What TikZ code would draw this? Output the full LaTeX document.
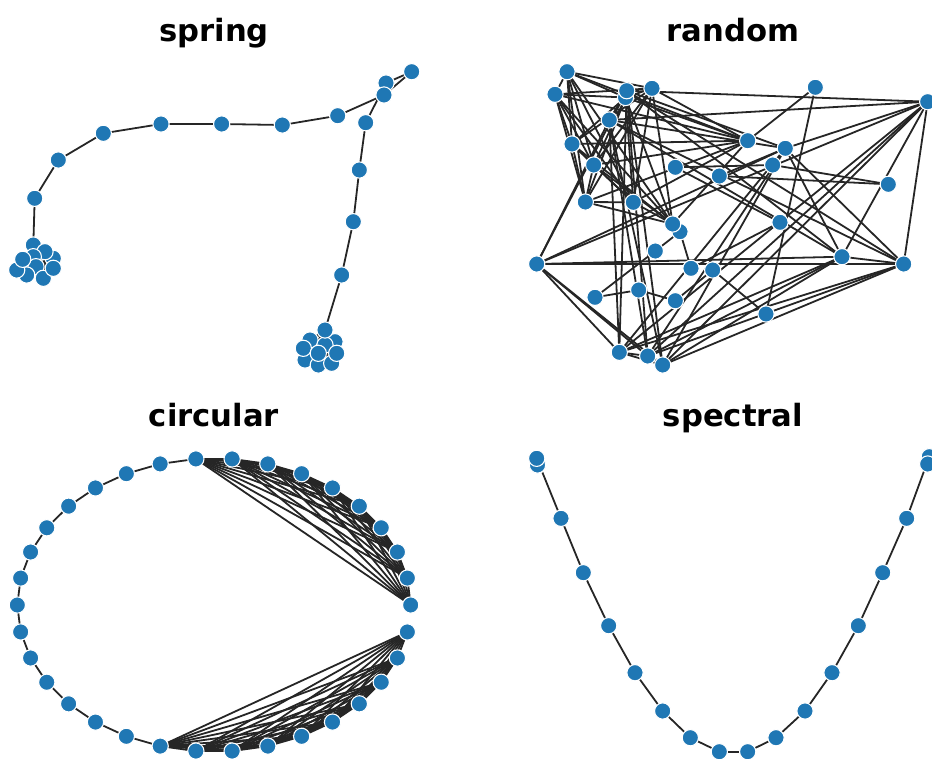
\documentclass[tikz,border=0pt]{standalone}
\usepackage{fontspec}
\setmainfont{DejaVu Sans}
\usetikzlibrary{backgrounds}
\definecolor{nodeblue}{HTML}{1F77B4}
\definecolor{edgec}{HTML}{262626}
\newcommand\myclique[3]{\foreach \i in {#2,...,#3}{\foreach \j in {#2,...,#3}{\ifnum\j>\i \draw[ed] (#1\i.center) -- (#1\j.center);\fi}}}
\newcommand\mypath[1]{\foreach \i in {9,...,23}{\pgfmathtruncatemacro\j{\i+1}\draw[ed] (#1\i.center) -- (#1\j.center);}}
\begin{document}
\begin{tikzpicture}[x=0.75pt,y=-0.75pt,
  nd/.style={circle,fill=nodeblue,draw=white,line width=0.8pt,minimum size=12.2pt,inner sep=0pt},
  ed/.style={draw=edgec,line width=1.35pt},
  ttl/.style={font=\fontsize{23}{28}\selectfont\bfseries,anchor=base}]
\useasboundingbox (0,0) rectangle (932,758);

% titles
\node[ttl] (t1) at (214,41) {spring};
\node[ttl] (t2) at (733,41) {random};
\node[ttl] (t3) at (214,426.7) {circular};
\node[ttl] (t4) at (733,426.7) {spectral};

% ---------- spring ----------
\node[nd] (p9) at (33.3,245) {};
\node[nd] (p0) at (53.3,258.3) {};
\node[nd] (p1) at (45,251.7) {};
\node[nd] (p2) at (33.3,256.7) {};
\node[nd] (p3) at (36,266.7) {};
\node[nd] (p4) at (43.3,278.3) {};
\node[nd] (p5) at (26.7,275) {};
\node[nd] (p6) at (16.7,270) {};
\node[nd] (p7) at (22.7,259.3) {};
\node[nd] (p8) at (53.3,268.3) {};
\node[nd] (p10) at (34.7,198.3) {};
\node[nd] (p11) at (58.3,160) {};
\node[nd] (p12) at (103.3,133.3) {};
\node[nd] (p13) at (161,124) {};
\node[nd] (p14) at (221.7,124) {};
\node[nd] (p15) at (282.3,125) {};
\node[nd] (p16) at (337.7,115.7) {};
\node[nd] (p19) at (386,83) {};
\node[nd] (p17) at (384,95) {};
\node[nd] (p18) at (411.7,71.7) {};
\node[nd] (p20) at (365.7,122.7) {};
\node[nd] (p21) at (359.3,170) {};
\node[nd] (p22) at (353.3,221.7) {};
\node[nd] (p23) at (341.7,275) {};
\node[nd] (p25) at (310,340) {};
\node[nd] (p26) at (335,341.7) {};
\node[nd] (p27) at (325,345) {};
\node[nd] (p28) at (305,360) {};
\node[nd] (p29) at (318.3,365) {};
\node[nd] (p30) at (331.7,363.3) {};
\node[nd] (p31) at (303.3,348.3) {};
\node[nd] (p32) at (318.3,353.3) {};
\node[nd] (p33) at (336.7,353.3) {};
\node[nd] (p24) at (325,330) {};

% ---------- random ----------
\node[nd] (r0) at (567,71.7) {};
\node[nd] (r1) at (555,94.3) {};
\node[nd] (r2) at (625.5,97.5) {};
\node[nd] (r25) at (626.7,90.7) {};
\node[nd] (r3) at (652,88.3) {};
\node[nd] (r26) at (609.3,120) {};
\node[nd] (r10) at (815.3,87.3) {};
\node[nd] (r27) at (927.7,101.7) {};
\node[nd] (r4) at (572,144) {};
\node[nd] (r5) at (593.7,165) {};
\node[nd] (r20) at (675.3,167.3) {};
\node[nd] (r23) at (719.3,176) {};
\node[nd] (r9) at (747.7,140.7) {};
\node[nd] (r24) at (785.3,148.3) {};
\node[nd] (r21) at (772.7,165) {};
\node[nd] (r22) at (888.3,184.3) {};
\node[nd] (r6) at (585.3,202) {};
\node[nd] (r7) at (633.3,202.3) {};
\node[nd] (r17) at (680,231.7) {};
\node[nd] (r8) at (672.7,224) {};
\node[nd] (r19) at (780,222.3) {};
\node[nd] (r16) at (655.3,251) {};
\node[nd] (r28) at (536.7,264) {};
\node[nd] (r18) at (691,268.3) {};
\node[nd] (r12) at (712.7,270) {};
\node[nd] (r29) at (842,256.7) {};
\node[nd] (r30) at (903.7,264) {};
\node[nd] (r15) at (595,297.3) {};
\node[nd] (r14) at (638.7,290) {};
\node[nd] (r13) at (675.3,300.7) {};
\node[nd] (r11) at (766,314) {};
\node[nd] (r31) at (619.3,352.3) {};
\node[nd] (r32) at (647.7,356) {};
\node[nd] (r33) at (662.7,365) {};

% ---------- circular ----------
\foreach \k in {0,...,33}
  \node[nd] (c\k) at ({214+196.7*cos(\k*360/34)},{605-146.7*sin(\k*360/34)}) {};

% ---------- spectral ----------
\foreach \k in {0,...,8} \node[nd] (s\k) at (537.5,465) {};
\node[nd] (s9) at (536.7,458.3) {};
\node[nd] (s10) at (561,518.3) {};
\node[nd] (s11) at (583.3,572.7) {};
\node[nd] (s12) at (608.7,625.7) {};
\node[nd] (s13) at (635,672.7) {};
\node[nd] (s14) at (662.7,711) {};
\node[nd] (s15) at (690.3,737.7) {};
\node[nd] (s16) at (719.3,751.7) {};
\node[nd] (s17) at (747.7,751.7) {};
\node[nd] (s18) at (776,737.7) {};
\node[nd] (s19) at (805,711) {};
\node[nd] (s20) at (832,672.7) {};
\node[nd] (s21) at (858.3,625.7) {};
\node[nd] (s22) at (882.7,572.7) {};
\node[nd] (s23) at (906.7,518.3) {};
\foreach \k in {24,...,32} \node[nd] (s\k) at (929.3,456.7) {};
\node[nd] (s33) at (927.7,464) {};

% ---------- edges ----------
\begin{scope}[on background layer]
  \foreach \g in {p,r,c,s}{%
    \myclique{\g}{0}{9}
    \myclique{\g}{24}{33}
    \mypath{\g}
  }
\end{scope}
\end{tikzpicture}
\end{document}
